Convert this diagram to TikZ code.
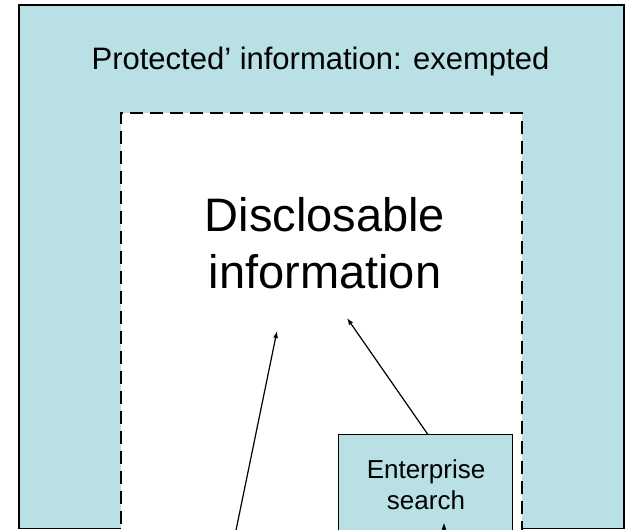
\documentclass[tikz,border=0pt]{standalone}
\usepackage{fontspec}
\setmainfont{Liberation Sans}
\usetikzlibrary{arrows.meta}
\definecolor{frameblue}{RGB}{185,224,228}
\begin{document}
\begin{tikzpicture}[x=1pt,y=-1pt,
  outerbox/.style={fill=frameblue,draw=black,line width=1.6pt,inner sep=0pt,anchor=north west},
  innerbox/.style={fill=white,draw=black,line width=1.5pt,dash pattern=on 13pt off 7pt,inner sep=0pt,anchor=north west},
  searchbox/.style={fill=frameblue,draw=black,line width=1.1pt,inner sep=0pt,anchor=north west},
  conn/.style={draw=black,line width=1.2pt,-{Latex[length=7pt,width=5pt]}}]
\useasboundingbox (0,0) rectangle (625,530);
\clip (0,0) rectangle (625,530);
\node[outerbox, minimum width=605pt, minimum height=523.5pt] (outer) at (18,4) {};
\node[innerbox, minimum width=401pt, minimum height=440pt] (inner) at (120,112) {};
\node[searchbox, minimum width=174pt, minimum height=110pt] (es) at (338,434) {};
\node[font=\fontsize{31}{37}\selectfont, anchor=base, inner sep=0pt] (prot) at (320.5,69) {Protected’ information: exempted};
\node[font=\fontsize{47}{57}\selectfont, align=center, inner sep=0pt] (discl) at (325,243) {Disclosable\\information};
\node[font=\fontsize{26}{31}\selectfont, align=center, inner sep=0pt] (estext) at (426,485) {Enterprise\\search};
\coordinate (t1) at (347,318);
\coordinate (s2) at (234,540);
\coordinate (t2) at (277,331);
\coordinate (s3) at (444,545);
\coordinate (t3) at (444,522.5);
\draw[conn] ([xshift=2pt]es.north) -- (t1);
\draw[conn] (s2) -- (t2);
\draw[conn] (s3) -- (t3);
\end{tikzpicture}
\end{document}
